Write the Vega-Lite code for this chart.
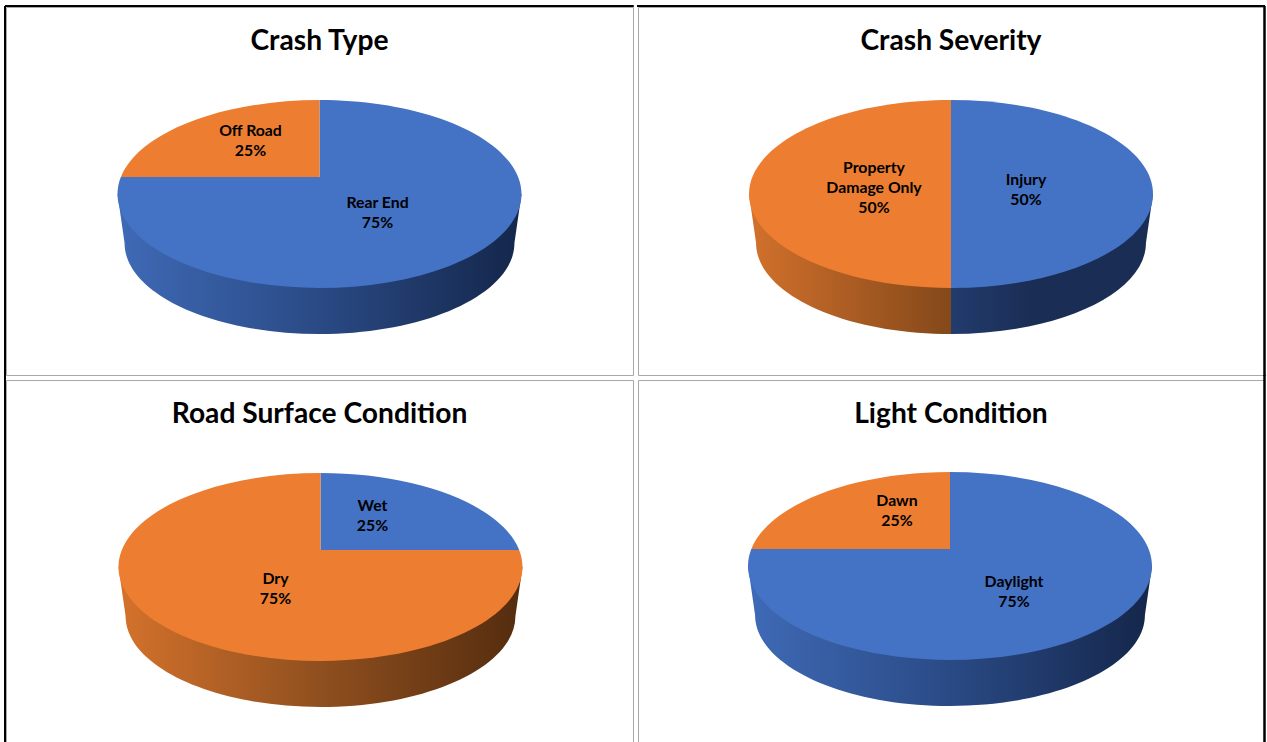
{"$schema":"https://vega.github.io/schema/vega-lite/v6.json","padding":{"left":3,"top":4,"right":0,"bottom":0},"background":"white","columns":2,"bounds":"flush","spacing":{"row":5,"column":5},"resolve":{"scale":{"shape":"independent","color":"independent"}},"config":{"view":{"stroke":"#a8a8a8","strokeWidth":1},"axis":{"disable":true},"title":{"font":"Lato","fontWeight":"bold","fontSize":28.2,"color":"#000000","anchor":"middle","offset":-51},"text":{"font":"Lato","fontWeight":"bold","fontSize":15.8,"color":"#000000","lineBreak":"\n","lineHeight":20,"align":"center","baseline":"middle"}},"datasets":{"crash":[{"chart":"Crash Type","category":"Rear End","share":75,"label":"Rear End\n75%"},{"chart":"Crash Type","category":"Off Road","share":25,"label":"Off Road\n25%"},{"chart":"Crash Severity","category":"Injury","share":50,"label":"Injury\n50%"},{"chart":"Crash Severity","category":"Property Damage Only","share":50,"label":"Property\nDamage Only\n50%"},{"chart":"Road Surface Condition","category":"Wet","share":25,"label":"Wet\n25%"},{"chart":"Road Surface Condition","category":"Dry","share":75,"label":"Dry\n75%"},{"chart":"Light Condition","category":"Daylight","share":75,"label":"Daylight\n75%"},{"chart":"Light Condition","category":"Dawn","share":25,"label":"Dawn\n25%"}]},"concat":[
{"title":"Crash Type","width":627,"height":368,"data":{"name":"crash"},"transform":[{"filter":"datum.chart==='Crash Type'"}],
"encoding":{"x":{"datum":0,"type":"quantitative","scale":{"domain":[-313.5,313.5],"nice":false,"zero":false},"axis":null},"y":{"datum":0,"type":"quantitative","scale":{"domain":[181,-187],"nice":false,"zero":false},"axis":null}},
"layer":[
{"mark":{"type":"point","filled":true,"opacity":1,"size":163216,"strokeWidth":0,"shape":"M-1,0 L-0.965,0.243 A0.965,0.45 0 0 0 0.965,0.243 L1,0 Z","fill":{"gradient":"linear","x1":0,"y1":0,"x2":1,"y2":0,"stops":[{"offset":0,"color":"#3f6ab6"},{"offset":0.5,"color":"#2a4a85"},{"offset":1,"color":"#14264a"}]}},"transform":[{"filter":"datum.category==='Rear End'"}]},
{"mark":{"type":"point","filled":true,"opacity":1,"size":163216,"strokeWidth":0},"encoding":{"shape":{"field":"category","type":"nominal","legend":null,"scale":{"domain":["Rear End","Off Road"],"range":["M0,-0.084 L-0.9835,-0.084 A1,0.465 0 1 0 0,-0.465 Z","M0,-0.084 L0,-0.465 A1,0.465 0 0 0 -0.9835,-0.084 Z"]}},"color":{"field":"category","type":"nominal","legend":null,"scale":{"domain":["Rear End","Off Road"],"range":["#4472c4","#ed7d31"]}}}},
{"mark":{"type":"text"},"transform":[{"filter":"datum.category==='Rear End'"}],"encoding":{"text":{"field":"label"},"x":{"datum":58},"y":{"datum":9}}},
{"mark":{"type":"text"},"transform":[{"filter":"datum.category==='Off Road'"}],"encoding":{"text":{"field":"label"},"x":{"datum":-69},"y":{"datum":-63}}},
{"mark":{"type":"rule","stroke":"#000000","strokeWidth":2},"encoding":{"x":{"datum":-314.5},"x2":{"datum":314},"y":{"datum":-188}}},
{"mark":{"type":"rule","stroke":"#000000","strokeWidth":2},"encoding":{"x":{"datum":-314.5},"y":{"datum":-188},"y2":{"datum":182}}}
]},
{"title":"Crash Severity","width":626,"height":368,"data":{"name":"crash"},"transform":[{"filter":"datum.chart==='Crash Severity'"}],
"encoding":{"x":{"datum":0,"type":"quantitative","scale":{"domain":[-313,313],"nice":false,"zero":false},"axis":null},"y":{"datum":0,"type":"quantitative","scale":{"domain":[181,-187],"nice":false,"zero":false},"axis":null}},
"layer":[
{"mark":{"type":"point","filled":true,"opacity":1,"size":163216,"strokeWidth":0,"shape":"M-1,0 L-0.965,0.243 A0.965,0.45 0 0 0 0,0.693 L0,0 Z","fill":{"gradient":"linear","x1":0,"y1":0,"x2":1,"y2":0,"stops":[{"offset":0,"color":"#d2712c"},{"offset":1,"color":"#84481a"}]}},"transform":[{"filter":"datum.category==='Property Damage Only'"}]},
{"mark":{"type":"point","filled":true,"opacity":1,"size":163216,"strokeWidth":0,"shape":"M1,0 L0.965,0.243 A0.965,0.45 0 0 1 0,0.693 L0,0 Z","fill":{"gradient":"linear","x1":0,"y1":0,"x2":1,"y2":0,"stops":[{"offset":0,"color":"#223c6e"},{"offset":0.4,"color":"#1a2d54"},{"offset":1,"color":"#1a2d54"}]}},"transform":[{"filter":"datum.category==='Injury'"}]},
{"mark":{"type":"point","filled":true,"opacity":1,"size":163216,"strokeWidth":0},"encoding":{"shape":{"field":"category","type":"nominal","legend":null,"scale":{"domain":["Injury","Property Damage Only"],"range":["M0,-0.465 A1,0.465 0 0 1 0,0.465 Z","M0,-0.465 A1,0.465 0 0 0 0,0.465 Z"]}},"color":{"field":"category","type":"nominal","legend":null,"scale":{"domain":["Injury","Property Damage Only"],"range":["#4472c4","#ed7d31"]}}}},
{"mark":{"type":"text"},"transform":[{"filter":"datum.category==='Injury'"}],"encoding":{"text":{"field":"label"},"x":{"datum":75},"y":{"datum":-14}}},
{"mark":{"type":"text"},"transform":[{"filter":"datum.category==='Property Damage Only'"}],"encoding":{"text":{"field":"label"},"x":{"datum":-77},"y":{"datum":-26}}},
{"mark":{"type":"rule","stroke":"#000000","strokeWidth":2},"encoding":{"x":{"datum":-314},"x2":{"datum":314},"y":{"datum":-188}}},
{"mark":{"type":"rule","stroke":"#000000","strokeWidth":2},"encoding":{"x":{"datum":313.5},"y":{"datum":-188},"y2":{"datum":182}}}
]},
{"title":{"text":"Road Surface Condition","offset":-55},"width":627,"height":362,"data":{"name":"crash"},"transform":[{"filter":"datum.chart==='Road Surface Condition'"}],
"encoding":{"x":{"datum":0,"type":"quantitative","scale":{"domain":[-314.5,312.5],"nice":false,"zero":false},"axis":null},"y":{"datum":0,"type":"quantitative","scale":{"domain":[175,-187],"nice":false,"zero":false},"axis":null}},
"layer":[
{"mark":{"type":"point","filled":true,"opacity":1,"size":163216,"strokeWidth":0,"shape":"M-1,0 L-0.965,0.243 A0.965,0.45 0 0 0 0.965,0.243 L1,0 Z","fill":{"gradient":"linear","x1":0,"y1":0,"x2":1,"y2":0,"stops":[{"offset":0,"color":"#d4722c"},{"offset":0.5,"color":"#8f4f1e"},{"offset":1,"color":"#542c0f"}]}},"transform":[{"filter":"datum.category==='Dry'"}]},
{"mark":{"type":"point","filled":true,"opacity":1,"size":163216,"strokeWidth":0},"encoding":{"shape":{"field":"category","type":"nominal","legend":null,"scale":{"domain":["Wet","Dry"],"range":["M0,-0.084 L0,-0.465 A1,0.465 0 0 1 0.9835,-0.084 Z","M0,-0.084 L0.9835,-0.084 A1,0.465 0 1 1 0,-0.465 Z"]}},"color":{"field":"category","type":"nominal","legend":null,"scale":{"domain":["Wet","Dry"],"range":["#4472c4","#ed7d31"]}}}},
{"mark":{"type":"text"},"transform":[{"filter":"datum.category==='Wet'"}],"encoding":{"text":{"field":"label"},"x":{"datum":52},"y":{"datum":-61}}},
{"mark":{"type":"text"},"transform":[{"filter":"datum.category==='Dry'"}],"encoding":{"text":{"field":"label"},"x":{"datum":-45},"y":{"datum":12}}},
{"mark":{"type":"rule","stroke":"#000000","strokeWidth":2},"encoding":{"x":{"datum":-315.5},"y":{"datum":-192},"y2":{"datum":175}}}
]},
{"title":{"text":"Light Condition","offset":-55},"width":626,"height":362,"data":{"name":"crash"},"transform":[{"filter":"datum.chart==='Light Condition'"}],
"encoding":{"x":{"datum":0,"type":"quantitative","scale":{"domain":[-312,314],"nice":false,"zero":false},"axis":null},"y":{"datum":0,"type":"quantitative","scale":{"domain":[176,-186],"nice":false,"zero":false},"axis":null}},
"layer":[
{"mark":{"type":"point","filled":true,"opacity":1,"size":163216,"strokeWidth":0,"shape":"M-1,0 L-0.965,0.243 A0.965,0.45 0 0 0 0.965,0.243 L1,0 Z","fill":{"gradient":"linear","x1":0,"y1":0,"x2":1,"y2":0,"stops":[{"offset":0,"color":"#3f6ab6"},{"offset":0.5,"color":"#2a4a85"},{"offset":1,"color":"#14264a"}]}},"transform":[{"filter":"datum.category==='Daylight'"}]},
{"mark":{"type":"point","filled":true,"opacity":1,"size":163216,"strokeWidth":0},"encoding":{"shape":{"field":"category","type":"nominal","legend":null,"scale":{"domain":["Daylight","Dawn"],"range":["M0,-0.084 L-0.9835,-0.084 A1,0.465 0 1 0 0,-0.465 Z","M0,-0.084 L0,-0.465 A1,0.465 0 0 0 -0.9835,-0.084 Z"]}},"color":{"field":"category","type":"nominal","legend":null,"scale":{"domain":["Daylight","Dawn"],"range":["#4472c4","#ed7d31"]}}}},
{"mark":{"type":"text"},"transform":[{"filter":"datum.category==='Daylight'"}],"encoding":{"text":{"field":"label"},"x":{"datum":64},"y":{"datum":16}}},
{"mark":{"type":"text"},"transform":[{"filter":"datum.category==='Dawn'"}],"encoding":{"text":{"field":"label"},"x":{"datum":-53},"y":{"datum":-65}}},
{"mark":{"type":"rule","stroke":"#000000","strokeWidth":2},"encoding":{"x":{"datum":314.5},"y":{"datum":-191},"y2":{"datum":176}}}
]}
]}
